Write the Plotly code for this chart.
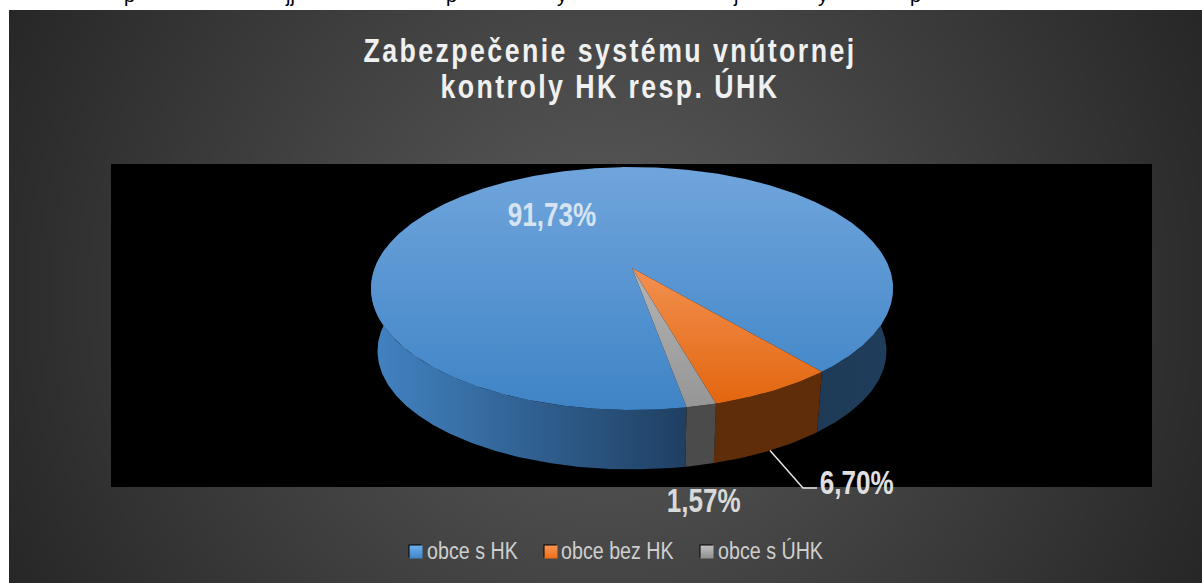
import numpy as np
import plotly.graph_objects as go

# ---- data
categories = ["obce s HK", "obce bez HK", "obce s ÚHK"]
values = [91.73, 6.70, 1.57]
value_labels = ["91,73%", "6,70%", "1,57%"]
first_slice_angle = 169.8
title_text = "Zabezpečenie systému vnútornej<br>kontroly HK resp. ÚHK"
clipped_letters = ["p", "jj", "p", "y", "j", "y", "p"]
clipped_letter_x = [129, 290, 451, 562, 735, 823, 915]

# ---- styles (first colour = upper/left end of each gradient)
top_colors = [["#70a5dc", "#3f84c6"], ["#f29050", "#e3660f"], ["#b4b4b4", "#969696"]]
swatch_colors = [["#6db0ee", "#3f85c8"], ["#fb954f", "#ec6f18"], ["#c0c0c0", "#8f8f8f"]]
W, H = 1202, 583
CX, CY, A, B, K = 632.0, 268.0, 257.3, 118.0, 0.1687
DEPTH, SCALE = 63.0, 0.975


def project(phi_deg, lower=False):
    """Clockwise-from-top angle on the unit disc to the perspective view."""
    phi = np.radians(phi_deg)
    X, Y = np.sin(phi), -np.cos(phi)
    w = 1 - K * Y
    s, d = (SCALE, DEPTH) if lower else (1.0, 0.0)
    return CX + s * A * X / w, CY + d + s * B * Y / w


def arc(a, b, lower=False):
    n = max(int(abs(b - a)) * 2, 8)
    return project(np.linspace(a, b, n), lower)


def filled(x, y, colors, kind):
    # the vertical gradient runs bottom to top in this renderer
    ordered = colors[::-1] if kind == "vertical" else colors
    stops = [[0, ordered[0]], [1, ordered[1]]]
    return go.Scatter(
        x=list(x), y=list(y), mode="lines", line=dict(width=0), fill="toself",
        fillcolor=colors[1], fillgradient=dict(type=kind, colorscale=stops),
        hoverinfo="skip", showlegend=False,
    )


fig = go.Figure()

# panel background with a radial gradient
xe = np.arange(9, W + 4, 4.0)
ye = np.arange(10, H + 4, 4.0)
xc, yc = (xe[:-1] + xe[1:]) / 2, (ye[:-1] + ye[1:]) / 2
dist = np.hypot(*np.meshgrid(xc - 605, yc - 296))
fig.add_trace(go.Heatmap(
    x=xe, y=ye, z=np.clip(92 - 54 * dist / 670, 38, 92).round(1),
    zmin=38, zmax=92, colorscale=[[0, "rgb(38,38,38)"], [1, "rgb(92,92,92)"]],
    showscale=False, hoverinfo="skip",
))

# black plot area
fig.add_trace(go.Scatter(
    x=[111, 1152, 1152, 111], y=[164, 164, 487, 487], mode="lines", line=dict(width=0),
    fill="toself", fillcolor="#000000", hoverinfo="skip", showlegend=False,
))

# slice angles from the values
starts, ends, cur = [], [], first_slice_angle
for v in values:
    starts.append(cur)
    cur += v * 3.6
    ends.append(cur)


def wall(a, b, colors):
    xt, yt = arc(a, b)
    xb, yb = arc(b, a, lower=True)
    fig.add_trace(filled(np.r_[xt, xb], np.r_[yt, yb], colors, "horizontal"))


wall(starts[0], 280, ["#4283c2", "#1f3f62"])          # blue, left of the front
wall(80, ends[0] - 360, ["#1e3a56", "#1f3e5c"])       # blue, right of the front
wall(starts[1], ends[1], ["#5f2d0a", "#5f2d0a"])
wall(starts[2], ends[2], ["#4b4b4b", "#4b4b4b"])

# top faces
for s, e, colors, name in zip(starts, ends, top_colors, categories):
    ax, ay = arc(s, e)
    fig.add_trace(filled(np.r_[CX, ax, CX], np.r_[CY, ay, CY], colors, "vertical"))
    fig.data[-1].name = name

# leader line of the second slice
lx, ly = project((starts[1] + ends[1]) / 2, lower=True)
fig.add_trace(go.Scatter(
    x=[lx, 803, 817], y=[ly, 488, 488], mode="lines",
    line=dict(color="#e6e6e6", width=1.5), hoverinfo="skip", showlegend=False,
))

# legend swatches
swatch_x = [416, 551, 707]
text_x = [427, 561, 718]
fig.add_trace(go.Scatter(
    x=[v - 1 for v in swatch_x], y=[551] * 3, mode="markers", hoverinfo="skip", showlegend=False,
    marker=dict(symbol="square", size=13, color="#000000", line=dict(width=0)),
))
fig.add_trace(go.Scatter(
    x=swatch_x, y=[552] * 3, mode="markers", hoverinfo="skip", showlegend=False,
    marker=dict(symbol="square", size=13, color=[c[0] for c in swatch_colors],
                gradient=dict(type="vertical", color=[c[1] for c in swatch_colors]),
                line=dict(width=0)),
))

FONT = "Liberation Sans, Arial, sans-serif"
annotations = []
for label, px, py, col in zip(value_labels, [552, 857, 704], [214, 482, 500],
                              ["#d6e4f2", "#e0e0e0", "#d9d9d9"]):
    annotations.append(dict(x=px, y=py, text=f"<b>{label}</b>", showarrow=False,
                            xanchor="center", yanchor="middle",
                            font=dict(family=FONT, size=33, color=col)))
for name, tx in zip(categories, text_x):
    annotations.append(dict(x=tx, y=550, text=name, showarrow=False, xanchor="left",
                            yanchor="middle", xshift=-2,
                            font=dict(family=FONT, size=24, color="#cfcfcf")))
for ch, tx in zip(clipped_letters, clipped_letter_x):
    annotations.append(dict(x=tx, y=6, text=ch, showarrow=False, xanchor="center",
                            yanchor="bottom", borderpad=0, borderwidth=0,
                            font=dict(family="Liberation Sans", size=20, color="#000000")))

fig.update_layout(
    width=W, height=H, margin=dict(l=0, r=0, t=0, b=0), showlegend=False,
    paper_bgcolor="#ffffff", plot_bgcolor="#ffffff",
    xaxis=dict(range=[0, W], visible=False, fixedrange=True),
    yaxis=dict(range=[H, 0], visible=False, fixedrange=True),
    title=dict(text=f"<b>{title_text}</b>", x=610 / W, xanchor="center", y=0.893,
               yanchor="middle", yref="container",
               font=dict(family=FONT, size=33, color="#f0f0f0")),
    annotations=annotations,
)

fig.write_html(
    "out.html",
    config=dict(displayModeBar=False),
    post_script="""
document.body.style.margin='0';document.body.style.overflow='hidden';
function squeeze(t,k,origin){t.style.transformBox='fill-box';t.style.transformOrigin=origin;t.style.transform='scaleX('+k+')';}
document.querySelectorAll('.gtitle').forEach(function(t){
  t.style.letterSpacing='3px';
  squeeze(t,0.81,'center');
  var ls=t.querySelectorAll('tspan.line');
  if(ls.length>1){ls[1].setAttribute('dy','36px');}
});
document.querySelectorAll('.annotation-text').forEach(function(t,i){
  if(i<3){squeeze(t,0.79,'center');}else if(i<6){squeeze(t,0.82,'left');}
});
""",
)
